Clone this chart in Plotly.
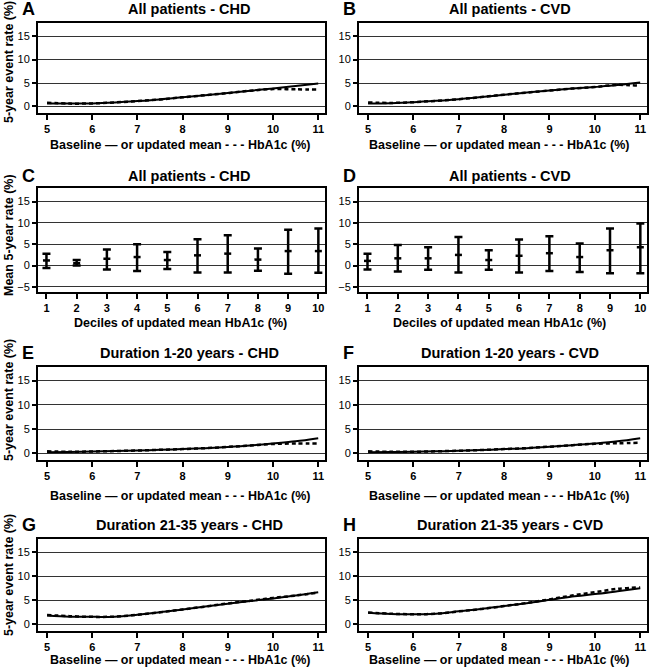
import plotly.graph_objects as go

W, H = 653, 671

# ---------------- data ----------------
hba1c = [5, 5.5, 6, 6.5, 7, 7.5, 8, 8.5, 9, 9.5, 10, 10.5, 11]

A_base = [0.6, 0.6, 0.65, 0.85, 1.15, 1.5, 1.95, 2.4, 2.85, 3.35, 3.85, 4.35, 4.9]
A_upd = [0.8, 0.6, 0.65, 0.85, 1.15, 1.5, 1.95, 2.4, 2.85, 3.35, 3.7, 3.65, 3.6]
B_base = [0.6, 0.7, 0.9, 1.2, 1.55, 2.0, 2.5, 2.95, 3.4, 3.8, 4.15, 4.55, 5.1]
B_upd = [0.85, 0.75, 0.9, 1.2, 1.55, 2.0, 2.5, 2.95, 3.4, 3.8, 4.15, 4.6, 4.4]
E_base = [0.2, 0.25, 0.35, 0.45, 0.55, 0.7, 0.85, 1.05, 1.3, 1.6, 2.0, 2.45, 3.1]
E_upd = [0.4, 0.3, 0.35, 0.45, 0.55, 0.7, 0.85, 1.05, 1.3, 1.6, 1.9, 2.0, 2.0]
F_base = [0.2, 0.25, 0.3, 0.4, 0.5, 0.65, 0.85, 1.05, 1.35, 1.65, 2.0, 2.45, 3.1]
F_upd = [0.4, 0.3, 0.3, 0.4, 0.5, 0.65, 0.85, 1.05, 1.35, 1.65, 1.95, 2.05, 2.15]
G_base = [1.85, 1.6, 1.55, 1.6, 2.0, 2.5, 3.1, 3.7, 4.3, 4.85, 5.4, 6.0, 6.7]
G_upd = [1.95, 1.7, 1.55, 1.6, 2.0, 2.5, 3.1, 3.7, 4.35, 4.9, 5.5, 6.0, 6.6]
H_base = [2.4, 2.15, 2.1, 2.2, 2.7, 3.2, 3.8, 4.4, 5.1, 5.8, 6.3, 6.9, 7.5]
H_upd = [2.45, 2.2, 2.1, 2.2, 2.7, 3.2, 3.8, 4.45, 5.2, 6.0, 6.7, 7.4, 7.7]

deciles = [1, 2, 3, 4, 5, 6, 7, 8, 9, 10]
C_mean = [1.2, 0.55, 1.6, 2.0, 1.3, 2.4, 2.8, 1.4, 3.4, 3.4]
C_upper = [2.8, 1.3, 3.8, 5.0, 3.2, 6.2, 7.1, 4.0, 8.4, 8.7]
C_lower = [-0.55, 0.0, -0.95, -1.25, -0.8, -1.6, -1.6, -1.2, -1.9, -1.7]
D_mean = [1.1, 1.7, 1.7, 2.5, 1.3, 2.3, 2.9, 2.0, 3.6, 4.3]
D_upper = [2.8, 4.8, 4.3, 6.7, 3.6, 6.1, 6.9, 5.2, 8.7, 9.9]
D_lower = [-0.9, -1.4, -1.0, -1.6, -1.0, -1.6, -1.3, -1.5, -1.8, -1.8]

titles = ["All patients - CHD", "All patients - CVD",
          "All patients - CHD", "All patients - CVD",
          "Duration 1-20 years - CHD", "Duration 1-20 years - CVD",
          "Duration 21-35 years - CHD", "Duration 21-35 years - CVD"]
letters = ["A", "B", "C", "D", "E", "F", "G", "H"]
xtitle_line = "Baseline \u2014 or updated mean - - - HbA1c (%)"
xtitle_dec = "Deciles of updated mean HbA1c (%)"
ytitle_line = "5-year event rate (%)"
ytitle_dec = "Mean 5-year rate (%)"

# ---------------- layout geometry (pixels) ----------------
FONT = "Liberation Sans, Arial, Helvetica, sans-serif"
col_px = [(38, 325), (359, 647)]
row_px = [(23, 113), (188, 292), (367, 460), (539, 631)]
title_y = [9, 176, 353, 525]
xt_y = [145, 323, 496, 660]
yt_y = [62, 235, 400, 575]
title_x = [189, 510]
xt_x = [180, 499]
letter_x = [20, 341]


def px_x(p):
    return p / W


def px_y(p):
    return 1 - p / H


fig = go.Figure()
annotations = []

line_sets = {0: (A_base, A_upd), 1: (B_base, B_upd),
             4: (E_base, E_upd), 5: (F_base, F_upd),
             6: (G_base, G_upd), 7: (H_base, H_upd)}
dec_sets = {2: (C_mean, C_upper, C_lower), 3: (D_mean, D_upper, D_lower)}

for i in range(8):
    r, c = divmod(i, 2)
    n = i + 1
    xa = "x" if n == 1 else f"x{n}"
    ya = "y" if n == 1 else f"y{n}"
    is_dec = i in dec_sets

    if is_dec:
        m, up, lo = dec_sets[i]
        fig.add_trace(go.Scatter(
            x=deciles, y=m, mode="markers", xaxis=xa, yaxis=ya,
            marker=dict(symbol="line-ew", size=5, color="black",
                        line=dict(color="black", width=2.5)),
            error_y=dict(type="data", symmetric=False,
                         array=[u - v for u, v in zip(up, m)],
                         arrayminus=[v - l for v, l in zip(m, lo)],
                         color="black", thickness=2.5, width=4),
            showlegend=False))
    else:
        base, upd = line_sets[i]
        fig.add_trace(go.Scatter(
            x=hba1c, y=upd, mode="lines", xaxis=xa, yaxis=ya,
            line=dict(color="black", width=2.5, dash="4px,3px", shape="spline"),
            showlegend=False))
        fig.add_trace(go.Scatter(
            x=hba1c, y=base, mode="lines", xaxis=xa, yaxis=ya,
            line=dict(color="black", width=2, shape="spline"),
            showlegend=False))

    x0, x1 = col_px[c]
    y0, y1 = row_px[r]
    xkey = "xaxis" if n == 1 else f"xaxis{n}"
    ykey = "yaxis" if n == 1 else f"yaxis{n}"
    fig.layout[xkey] = dict(
        domain=[px_x(x0), px_x(x1)], anchor=ya,
        range=[0.72, 10.22] if is_dec else [4.8, 11.15],
        tickmode="array",
        tickvals=deciles if is_dec else [5, 6, 7, 8, 9, 10, 11],
        ticks="outside", ticklen=5, tickwidth=1.5, tickcolor="black",
        tickfont=dict(family=FONT, size=11, color="black", weight="bold"),
        showgrid=False, zeroline=False,
        showline=True, linecolor="black", linewidth=2, mirror=True,
        fixedrange=True)
    fig.layout[ykey] = dict(
        domain=[px_y(y1), px_y(y0)], anchor=xa,
        range=[-6.2, 18.2] if is_dec else [-1.4, 17.8],
        tickmode="array",
        tickvals=[-5, 0, 5, 10, 15] if is_dec else [0, 5, 10, 15],
        ticks="outside", ticklen=4, tickwidth=1.5, tickcolor="black",
        tickfont=dict(family=FONT, size=11, color="black"),
        showgrid=True, gridcolor="#333333", gridwidth=1,
        zeroline=False,
        showline=True, linecolor="black", linewidth=2, mirror=True,
        fixedrange=True)

    # panel title
    annotations.append(dict(
        text=titles[i], x=px_x(title_x[c]), y=px_y(title_y[r]),
        xref="paper", yref="paper", xanchor="center", yanchor="middle",
        showarrow=False,
        font=dict(family=FONT, size=14.5, color="black", weight="bold")))
    # panel letter
    annotations.append(dict(
        text=letters[i], x=px_x(letter_x[c]), y=px_y(title_y[r]),
        xref="paper", yref="paper", xanchor="left", yanchor="middle",
        showarrow=False,
        font=dict(family=FONT, size=18, color="black", weight="bold")))
    # x axis title
    annotations.append(dict(
        text=xtitle_dec if is_dec else xtitle_line,
        x=px_x(xt_x[c]), y=px_y(xt_y[r]),
        xref="paper", yref="paper", xanchor="center", yanchor="middle",
        showarrow=False,
        font=dict(family=FONT, size=12.5, color="black", weight="bold")))
    # y axis title (left column only)
    if c == 0:
        annotations.append(dict(
            text=ytitle_dec if is_dec else ytitle_line,
            x=px_x(9), y=px_y(yt_y[r]), textangle=-90,
            xref="paper", yref="paper", xanchor="center", yanchor="middle",
            showarrow=False,
            font=dict(family=FONT, size=12.5, color="black", weight="bold")))

fig.update_layout(
    width=W, height=H,
    margin=dict(l=0, r=0, t=0, b=0),
    paper_bgcolor="white", plot_bgcolor="white",
    annotations=annotations,
    font=dict(family=FONT, color="black"),
    showlegend=False)

fig.write_html("out.html", include_plotlyjs=True,
               config={"displayModeBar": False},
               post_script="document.body.style.margin='0';document.body.style.padding='0';document.body.style.overflow='hidden';")
